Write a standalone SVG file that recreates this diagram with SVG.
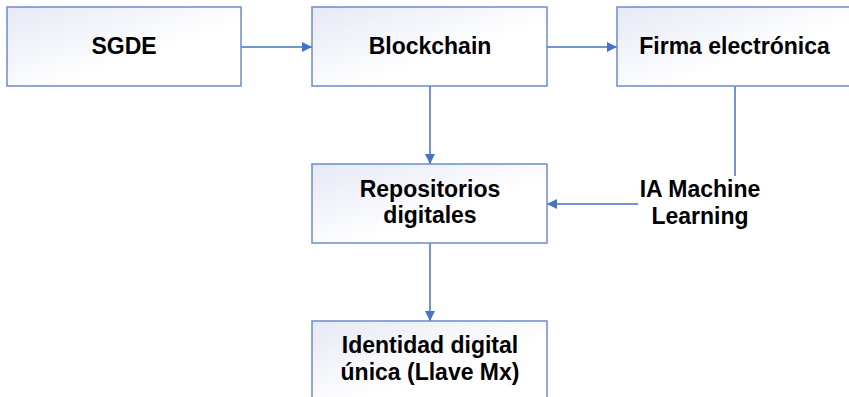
<svg xmlns="http://www.w3.org/2000/svg" width="849" height="397" viewBox="0 0 849 397">
<style>
.box{fill:url(#g);stroke:#6a8ccf;stroke-width:1.5}
.t{font-family:"Liberation Sans",Arial,sans-serif;font-weight:bold;font-size:23px;fill:#000;text-anchor:middle}
.c{stroke:#4472c4;stroke-width:1.5;fill:none}
</style>
<defs>
<linearGradient id="g" x1="0" y1="0" x2="1" y2="1">
<stop offset="0" stop-color="#e6e9f5"/>
<stop offset="0.6" stop-color="#ffffff"/>
</linearGradient>
<marker id="a" markerWidth="10" markerHeight="10" refX="10" refY="5" orient="auto" markerUnits="userSpaceOnUse">
<path d="M0,0 L10,5 L0,10 Z" fill="#4472c4"/>
</marker>
</defs>
<g id="connectors">
<line class="c" x1="241" y1="47" x2="312" y2="47" marker-end="url(#a)"/>
<line class="c" x1="547" y1="47" x2="617" y2="47" marker-end="url(#a)"/>
<line class="c" x1="430" y1="86" x2="430" y2="164" marker-end="url(#a)"/>
<line class="c" x1="735" y1="86" x2="735" y2="176"/>
<line class="c" x1="638" y1="204" x2="547" y2="204" marker-end="url(#a)"/>
<line class="c" x1="430" y1="243" x2="430" y2="321" marker-end="url(#a)"/>
</g>
<g id="sgde">
<rect class="box" x="7" y="7" width="234" height="79"/>
<text class="t" x="124" y="54">SGDE</text>
</g>
<g id="blockchain">
<rect class="box" x="312" y="7" width="235" height="79"/>
<text class="t" x="430" y="54">Blockchain</text>
</g>
<g id="firma">
<rect class="box" x="617" y="7" width="235" height="79"/>
<text class="t" x="734.5" y="54">Firma electrónica</text>
</g>
<g id="repositorios">
<rect class="box" x="312" y="164" width="235" height="79"/>
<text class="t" x="430" y="197">Repositorios</text>
<text class="t" x="430" y="223">digitales</text>
</g>
<g id="ia">
<text class="t" x="700" y="197">IA Machine</text>
<text class="t" x="700" y="224">Learning</text>
</g>
<g id="identidad">
<rect class="box" x="312" y="321" width="235" height="79"/>
<text class="t" x="430" y="353">Identidad digital</text>
<text class="t" x="430" y="380">única (Llave Mx)</text>
</g>
</svg>
